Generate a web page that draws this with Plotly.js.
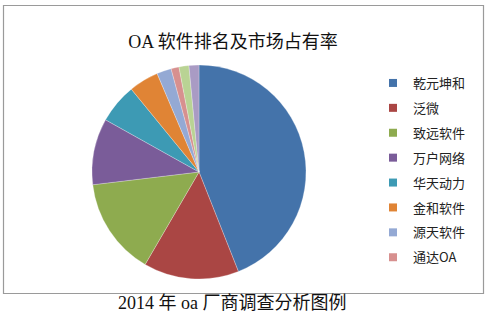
<!DOCTYPE html>
<html>
<head>
<meta charset="utf-8">
<script src="https://cdn.plot.ly/plotly-3.0.1.min.js"></script>
<style>html,body{margin:0;padding:0;background:#fff;}#chart{width:489px;height:319px;}</style>
</head>
<body>
<div id="chart"></div>
<script>
// Data (percent share, clockwise from 12 o'clock)
const vendors = ["乾元坤和", "泛微", "致远软件", "万户网络", "华天动力", "金和软件", "源天软件", "通达OA", "其他1", "其他2"];
const shares = [44.0, 14.4, 14.7, 10.0, 6.0, 4.5, 2.2, 1.2, 1.5, 1.5];
const legendNames = ["乾元坤和", "泛微", "致远软件", "万户网络", "华天动力", "金和软件", "源天软件", "通达OA"];
const sliceColors = ["#4473AA", "#AA4644", "#8EAB4F", "#7A5C99", "#3D9AB4", "#E08435", "#94A9D4", "#D7908F", "#B9D394", "#A99BC4"];
const chartTitle = "OA 软件排名及市场占有率";
const caption = "2014 年 oa 厂商调查分析图例";

const W = 489, H = 319;
const px = v => v / W;
const py = v => 1 - v / H;

const traces = [{
  type: "pie",
  labels: vendors,
  values: shares,
  sort: false,
  direction: "clockwise",
  rotation: 0,
  textinfo: "none",
  hoverinfo: "label+percent",
  showlegend: false,
  marker: {colors: sliceColors, line: {color: "rgba(255,255,255,0.5)", width: 0.5}},
  domain: {x: [px(92), px(306)], y: [py(279), py(65)]}
}];

legendNames.forEach((n, i) => {
  traces.push({
    type: "scatter",
    mode: "markers",
    x: [null], y: [null],
    name: n,
    legendgroup: "g" + i,
    marker: {symbol: "square", size: 8, color: sliceColors[i]},
    hoverinfo: "skip"
  });
});

const layout = {
  width: W, height: H,
  margin: {l: 0, r: 0, t: 0, b: 0},
  paper_bgcolor: "#ffffff",
  plot_bgcolor: "rgba(0,0,0,0)",
  xaxis: {visible: false, domain: [0.99, 1]},
  yaxis: {visible: false, domain: [0.99, 1]},
  title: {
    text: chartTitle,
    x: px(233), xanchor: "center",
    y: py(42), yanchor: "middle",
    font: {family: "Liberation Serif, Noto Sans CJK SC", size: 18, color: "#111"}
  },
  showlegend: true,
  legend: {
    x: px(373), xanchor: "left",
    y: py(68), yanchor: "top",
    bgcolor: "rgba(0,0,0,0)",
    font: {family: "Noto Sans CJK SC", size: 13, color: "#222"},
    tracegroupgap: 5,
    itemclick: false
  },
  shapes: [{
    type: "rect", xref: "paper", yref: "paper",
    x0: px(3.5), x1: px(483.5), y0: py(293.5), y1: py(5.5),
    line: {color: "#9a9a9a", width: 1.2}, fillcolor: "rgba(0,0,0,0)", layer: "below"
  }],
  annotations: [{
    text: caption, xref: "paper", yref: "paper",
    x: px(232), y: py(303), xanchor: "center", yanchor: "middle",
    showarrow: false,
    font: {family: "Liberation Serif, Noto Sans CJK SC", size: 18, color: "#111"}
  }]
};

Plotly.newPlot("chart", traces, layout, {displayModeBar: false, staticPlot: true});
</script>
</body>
</html>
